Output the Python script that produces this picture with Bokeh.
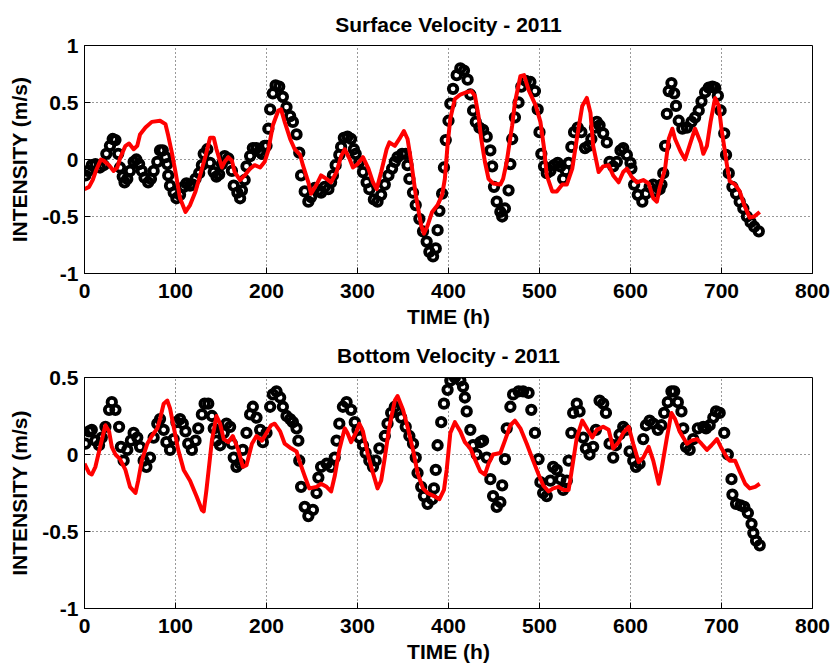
from bokeh.plotting import figure
from bokeh.layouts import column
from bokeh.models import Range1d, FixedTicker, CustomJSTickFormatter
from bokeh.embed import file_html
from bokeh.resources import INLINE

# ---------------- data ----------------
x_ticks = [0, 100, 200, 300, 400, 500, 600, 700, 800]
top_yticks = [-1, -0.5, 0, 0.5, 1]
bot_yticks = [-1, -0.5, 0, 0.5]

top_obs_t = [1, 4, 8, 12, 17, 21, 24, 28, 31, 34, 37, 39, 42, 44, 47, 50, 54, 57, 60, 63, 66, 70, 73, 76, 80, 83, 86, 89, 91, 92, 94, 98, 101, 105, 109, 112, 116, 119, 122, 126, 129, 131, 135, 138, 142, 145, 148, 151, 154, 158, 162, 164, 168, 171, 173, 176, 178, 182, 185, 189, 192, 195, 198, 200, 202, 204, 207, 210, 214, 218, 222, 226, 229, 233, 236, 238, 242, 246, 249, 253, 257, 260, 264, 268, 271, 273, 276, 280, 282, 285, 289, 293, 296, 298, 302, 306, 310, 313, 318, 322, 326, 330, 334, 338, 341, 344, 349, 353, 355, 357, 361, 364, 368, 372, 376, 379, 383, 386, 388, 390, 393, 395, 397, 400, 402, 405, 409, 413, 417, 421, 424, 427, 430, 434, 438, 442, 446, 448, 450, 453, 457, 459, 462, 466, 468, 470, 473, 477, 480, 485, 490, 495, 498, 500, 502, 505, 508, 512, 516, 520, 523, 526, 529, 532, 535, 538, 542, 546, 550, 554, 557, 561, 563, 566, 570, 574, 577, 581, 585, 589, 592, 596, 600, 601, 604, 608, 613, 617, 621, 625, 628, 632, 634, 636, 638, 640, 642, 645, 648, 650, 653, 657, 662, 667, 671, 675, 678, 682, 686, 690, 693, 696, 699, 703, 705, 708, 712, 716, 720, 724, 728, 732, 736, 741]
top_obs_v = [-0.14, -0.10, -0.05, -0.04, -0.07, -0.05, 0.05, 0.12, 0.18, 0.17, 0.05, -0.07, -0.15, -0.20, -0.17, -0.10, -0.02, 0.00, -0.04, -0.10, -0.16, -0.20, -0.17, -0.10, -0.02, 0.08, 0.08, 0.02, -0.04, -0.14, -0.23, -0.29, -0.34, -0.31, -0.24, -0.21, -0.23, -0.22, -0.17, -0.12, -0.05, 0.05, 0.09, -0.03, -0.11, -0.15, -0.13, -0.04, 0.03, 0.01, -0.10, -0.23, -0.29, -0.34, -0.27, -0.18, -0.06, 0.03, 0.10, 0.10, 0.07, 0.05, 0.12, 0.12, 0.27, 0.44, 0.58, 0.65, 0.64, 0.55, 0.46, 0.38, 0.33, 0.22, 0.06, -0.14, -0.28, -0.37, -0.33, -0.25, -0.27, -0.29, -0.24, -0.26, -0.20, -0.14, -0.05, 0.04, 0.11, 0.19, 0.20, 0.18, 0.09, 0.05, -0.02, -0.11, -0.20, -0.26, -0.35, -0.37, -0.31, -0.22, -0.14, -0.08, -0.02, 0.02, 0.05, 0.05, -0.05, -0.17, -0.29, -0.40, -0.52, -0.63, -0.72, -0.81, -0.85, -0.78, -0.62, -0.45, -0.30, -0.07, 0.17, 0.34, 0.49, 0.62, 0.74, 0.80, 0.78, 0.70, 0.57, 0.43, 0.33, 0.28, 0.26, 0.20, 0.08, -0.06, -0.24, -0.37, -0.46, -0.50, -0.43, -0.27, -0.04, 0.18, 0.37, 0.50, 0.64, 0.69, 0.68, 0.60, 0.44, 0.24, 0.05, -0.06, -0.12, -0.10, -0.05, -0.03, -0.06, -0.17, -0.10, -0.03, 0.11, 0.24, 0.28, 0.24, 0.10, 0.12, 0.18, 0.28, 0.33, 0.30, 0.23, 0.15, -0.02, -0.06, -0.02, 0.08, 0.10, 0.04, -0.03, -0.08, -0.22, -0.31, -0.37, -0.30, -0.24, -0.22, -0.28, -0.26, -0.22, -0.12, 0.12, 0.40, 0.60, 0.67, 0.58, 0.47, 0.34, 0.27, 0.28, 0.33, 0.37, 0.43, 0.51, 0.59, 0.63, 0.64, 0.63, 0.56, 0.43, 0.23, 0.04, -0.12, -0.24, -0.30, -0.37, -0.43, -0.50, -0.55, -0.59, -0.63]

top_mod_t = [0, 5, 9, 13, 18, 21, 27, 32, 36, 39, 45, 49, 54, 58, 61, 67, 74, 83, 89, 92, 96, 100, 105, 111, 116, 122, 127, 133, 138, 142, 145, 151, 154, 158, 162, 165, 171, 176, 182, 187, 193, 198, 202, 207, 213, 216, 220, 226, 231, 237, 240, 246, 249, 255, 260, 266, 271, 277, 282, 286, 291, 295, 300, 306, 312, 317, 321, 326, 332, 335, 341, 346, 351, 355, 359, 364, 370, 373, 377, 382, 388, 393, 396, 399, 402, 407, 413, 420, 425, 429, 433, 436, 440, 444, 449, 457, 460, 464, 470, 473, 479, 483, 488, 496, 501, 505, 508, 514, 519, 525, 530, 536, 541, 547, 552, 556, 559, 565, 570, 576, 581, 587, 592, 596, 601, 607, 614, 620, 625, 629, 632, 638, 642, 646, 649, 655, 660, 666, 671, 677, 680, 684, 688, 693, 697, 700, 706, 709, 715, 720, 725, 731, 736, 742]
top_mod_v = [-0.26, -0.24, -0.18, -0.09, 0.00, -0.01, -0.05, -0.10, -0.07, 0.01, 0.12, 0.14, 0.09, 0.12, 0.22, 0.28, 0.33, 0.34, 0.31, 0.21, 0.06, -0.11, -0.34, -0.46, -0.40, -0.28, -0.14, 0.03, 0.19, 0.19, 0.09, -0.07, -0.02, 0.02, -0.01, -0.11, -0.18, -0.14, -0.08, -0.05, -0.07, -0.02, 0.08, 0.30, 0.43, 0.44, 0.33, 0.18, 0.09, 0.04, -0.05, -0.20, -0.30, -0.22, -0.14, -0.17, -0.20, -0.11, 0.03, 0.09, 0.01, -0.07, -0.04, 0.02, -0.08, -0.20, -0.26, -0.11, 0.09, 0.15, 0.12, 0.18, 0.25, 0.18, -0.02, -0.31, -0.58, -0.65, -0.58, -0.46, -0.40, -0.31, -0.17, 0.13, 0.36, 0.53, 0.57, 0.59, 0.60, 0.56, 0.38, 0.18, -0.02, -0.17, -0.21, -0.22, -0.17, -0.02, 0.30, 0.50, 0.73, 0.74, 0.61, 0.47, 0.33, 0.10, -0.14, -0.28, -0.28, -0.22, -0.22, -0.08, 0.18, 0.47, 0.54, 0.41, 0.12, -0.11, -0.06, -0.05, -0.14, -0.20, -0.11, -0.08, -0.15, -0.20, -0.18, -0.21, -0.34, -0.37, -0.25, -0.08, 0.18, 0.27, 0.18, 0.07, 0.00, 0.15, 0.27, 0.15, 0.05, 0.12, 0.33, 0.54, 0.47, 0.27, -0.05, -0.19, -0.22, -0.28, -0.40, -0.51, -0.50, -0.46]

bot_obs_t = [1, 5, 8, 12, 16, 19, 23, 27, 30, 34, 38, 40, 43, 47, 51, 54, 58, 61, 65, 68, 72, 76, 80, 83, 87, 90, 94, 98, 101, 105, 108, 111, 114, 118, 122, 125, 129, 132, 136, 140, 142, 145, 149, 153, 156, 160, 162, 164, 167, 171, 174, 178, 182, 185, 189, 193, 196, 200, 204, 207, 211, 215, 218, 222, 226, 229, 233, 235, 236, 238, 242, 246, 251, 255, 257, 260, 266, 271, 275, 277, 280, 284, 288, 293, 297, 300, 302, 306, 309, 313, 317, 320, 324, 330, 333, 337, 341, 344, 348, 353, 357, 361, 364, 366, 370, 373, 377, 382, 384, 386, 388, 392, 395, 399, 402, 407, 413, 416, 418, 420, 424, 427, 431, 435, 438, 442, 446, 449, 453, 457, 459, 462, 464, 468, 471, 477, 482, 488, 491, 495, 499, 501, 504, 508, 512, 515, 519, 523, 526, 530, 532, 535, 537, 541, 544, 548, 551, 555, 559, 562, 566, 570, 573, 577, 581, 584, 588, 592, 595, 599, 603, 606, 610, 614, 617, 621, 625, 630, 634, 637, 641, 645, 648, 652, 656, 658, 661, 665, 669, 674, 680, 683, 687, 691, 694, 698, 703, 707, 711, 712, 716, 721, 725, 729, 733, 735, 738, 742]
bot_obs_v = [0.07, 0.15, 0.16, 0.09, 0.06, 0.11, 0.18, 0.29, 0.34, 0.29, 0.18, 0.05, -0.04, 0.03, 0.09, 0.14, 0.11, 0.05, -0.04, -0.08, -0.02, 0.11, 0.20, 0.23, 0.16, 0.08, 0.03, 0.10, 0.21, 0.23, 0.20, 0.15, 0.07, 0.03, 0.09, 0.17, 0.26, 0.33, 0.33, 0.25, 0.17, 0.09, 0.06, 0.14, 0.20, 0.18, 0.07, -0.02, -0.08, -0.06, 0.03, 0.14, 0.26, 0.31, 0.24, 0.16, 0.08, 0.14, 0.31, 0.39, 0.41, 0.37, 0.31, 0.25, 0.23, 0.21, 0.17, 0.09, -0.04, -0.21, -0.34, -0.40, -0.36, -0.25, -0.15, -0.08, -0.06, -0.08, -0.02, 0.09, 0.20, 0.31, 0.34, 0.29, 0.21, 0.16, 0.11, 0.06, 0.01, -0.04, -0.08, -0.04, 0.04, 0.12, 0.20, 0.27, 0.31, 0.29, 0.24, 0.18, 0.12, 0.07, -0.02, -0.12, -0.21, -0.27, -0.32, -0.29, -0.22, -0.10, 0.06, 0.21, 0.33, 0.42, 0.48, 0.50, 0.48, 0.44, 0.37, 0.28, 0.16, 0.06, 0.00, 0.08, 0.09, -0.02, -0.16, -0.27, -0.34, -0.31, -0.20, -0.03, 0.17, 0.31, 0.39, 0.41, 0.41, 0.40, 0.29, 0.14, -0.03, -0.18, -0.25, -0.27, -0.17, -0.08, -0.10, -0.16, -0.23, -0.17, -0.04, 0.14, 0.27, 0.33, 0.28, 0.11, 0.04, 0.00, 0.05, 0.16, 0.35, 0.33, 0.27, 0.07, -0.02, 0.06, 0.13, 0.18, 0.16, 0.02, -0.04, -0.08, -0.06, 0.10, 0.19, 0.22, 0.20, 0.16, 0.19, 0.27, 0.34, 0.41, 0.41, 0.34, 0.28, 0.17, 0.05, 0.03, 0.10, 0.17, 0.18, 0.17, 0.19, 0.24, 0.28, 0.27, 0.14, 0.00, -0.16, -0.26, -0.32, -0.33, -0.34, -0.38, -0.45, -0.51, -0.56, -0.59]

bot_mod_t = [0, 5, 8, 12, 18, 23, 27, 30, 34, 39, 45, 50, 56, 59, 63, 69, 74, 80, 83, 87, 91, 94, 98, 103, 109, 116, 123, 129, 131, 134, 140, 145, 149, 153, 158, 163, 169, 174, 178, 184, 189, 195, 200, 205, 209, 215, 220, 227, 233, 236, 242, 247, 255, 260, 266, 271, 275, 280, 286, 289, 293, 299, 302, 306, 311, 317, 322, 326, 330, 335, 341, 344, 350, 355, 361, 366, 372, 377, 384, 390, 395, 398, 402, 407, 413, 418, 424, 429, 435, 440, 444, 449, 457, 462, 468, 473, 479, 486, 493, 499, 504, 510, 515, 521, 526, 532, 535, 541, 547, 552, 558, 563, 570, 576, 581, 587, 592, 598, 603, 609, 614, 620, 625, 631, 634, 640, 645, 649, 654, 662, 667, 673, 678, 684, 689, 695, 700, 706, 709, 715, 720, 726, 731, 737, 742]
bot_mod_v = [-0.06, -0.12, -0.13, -0.08, 0.07, 0.19, 0.15, 0.05, 0.00, -0.03, -0.10, -0.21, -0.25, -0.17, -0.04, 0.07, 0.12, 0.17, 0.23, 0.33, 0.35, 0.30, 0.18, 0.03, -0.10, -0.17, -0.27, -0.36, -0.37, -0.23, 0.09, 0.25, 0.20, 0.10, 0.08, 0.12, 0.03, -0.08, -0.07, 0.07, 0.12, 0.09, 0.14, 0.19, 0.20, 0.15, 0.07, 0.04, 0.02, -0.04, -0.14, -0.22, -0.21, -0.19, -0.21, -0.24, -0.14, 0.03, 0.17, 0.14, 0.08, 0.15, 0.20, 0.15, 0.01, -0.12, -0.22, -0.17, -0.02, 0.18, 0.35, 0.38, 0.29, 0.18, 0.03, -0.12, -0.22, -0.25, -0.27, -0.29, -0.23, -0.10, 0.14, 0.21, 0.15, 0.08, 0.04, -0.03, -0.11, -0.13, -0.06, 0.00, 0.01, 0.09, 0.19, 0.22, 0.17, 0.07, -0.04, -0.13, -0.20, -0.24, -0.22, -0.21, -0.23, -0.23, -0.12, 0.11, 0.22, 0.17, 0.11, 0.16, 0.18, 0.16, 0.04, 0.08, 0.14, 0.18, 0.07, -0.05, -0.02, 0.05, -0.04, -0.19, -0.10, 0.11, 0.27, 0.23, 0.15, 0.07, 0.09, 0.10, 0.07, 0.03, 0.06, 0.10, 0.04, -0.02, -0.04, -0.04, -0.11, -0.19, -0.22, -0.21, -0.19]

titles = ["Surface Velocity - 2011", "Bottom Velocity - 2011"]
x_label = "TIME (h)"
y_label = "INTENSITY (m/s)"

FONT = "Liberation Sans"


def make_panel(title, y_min, y_max, yticks, obs_t, obs_v, mod_t, mod_v,
               height, border_top, border_bottom, title_standoff):
    p = figure(width=833, height=height, output_backend="svg", toolbar_location=None,
               x_range=Range1d(0, 800), y_range=Range1d(y_min, y_max),
               min_border_left=84, min_border_right=21,
               min_border_top=border_top, min_border_bottom=border_bottom,
               background_fill_color="white", border_fill_color="white")
    p.title.text = title
    p.title.align = "center"
    p.title.text_font = FONT
    p.title.text_font_size = "21px"
    p.title.text_font_style = "bold"
    p.title.text_color = "black"
    p.title.standoff = title_standoff

    p.xaxis.ticker = FixedTicker(ticks=x_ticks)
    p.yaxis.ticker = FixedTicker(ticks=yticks)
    p.yaxis.formatter = CustomJSTickFormatter(code="return String(tick);")
    p.xaxis.axis_label = x_label
    p.yaxis.axis_label = y_label
    for ax in [p.xaxis[0], p.yaxis[0]]:
        ax.axis_label_text_font = FONT
        ax.axis_label_text_font_size = "21px"
        ax.axis_label_text_font_style = "bold"
        ax.axis_label_text_color = "black"
        ax.major_label_text_font = FONT
        ax.major_label_text_font_size = "21px"
        ax.major_label_text_font_style = "bold"
        ax.major_label_text_color = "black"
        ax.major_tick_in = 6
        ax.major_tick_out = 0
        ax.minor_tick_line_color = None
        ax.axis_line_color = "black"
        ax.major_tick_line_color = "black"
    p.xaxis.major_label_standoff = 10
    p.xaxis.axis_label_standoff = 4
    p.yaxis.major_label_standoff = 6
    p.yaxis.axis_label_standoff = 8

    p.grid.grid_line_color = "black"
    p.grid.grid_line_dash = "1 3"
    p.grid.grid_line_alpha = 0.8
    p.grid.grid_line_width = 1
    p.outline_line_color = "black"
    p.outline_line_alpha = 1
    p.outline_line_width = 1

    p.scatter(obs_t, obs_v, marker="circle", size=8.5, line_width=3.8,
              line_color="black", fill_color=None)
    p.line(mod_t, mod_v, line_color="red", line_width=4, line_join="round")
    return p


p1 = make_panel(titles[0], -1, 1, top_yticks, top_obs_t, top_obs_v, top_mod_t, top_mod_v,
                330, 45, 55, 19)
p2 = make_panel(titles[1], -1, 0.5, bot_yticks, bot_obs_t, bot_obs_v, bot_mod_t, bot_mod_v,
                336, 47, 58, 21)

layout = column(p1, p2, spacing=0)
open("out.html", "w").write(file_html(layout, INLINE))
